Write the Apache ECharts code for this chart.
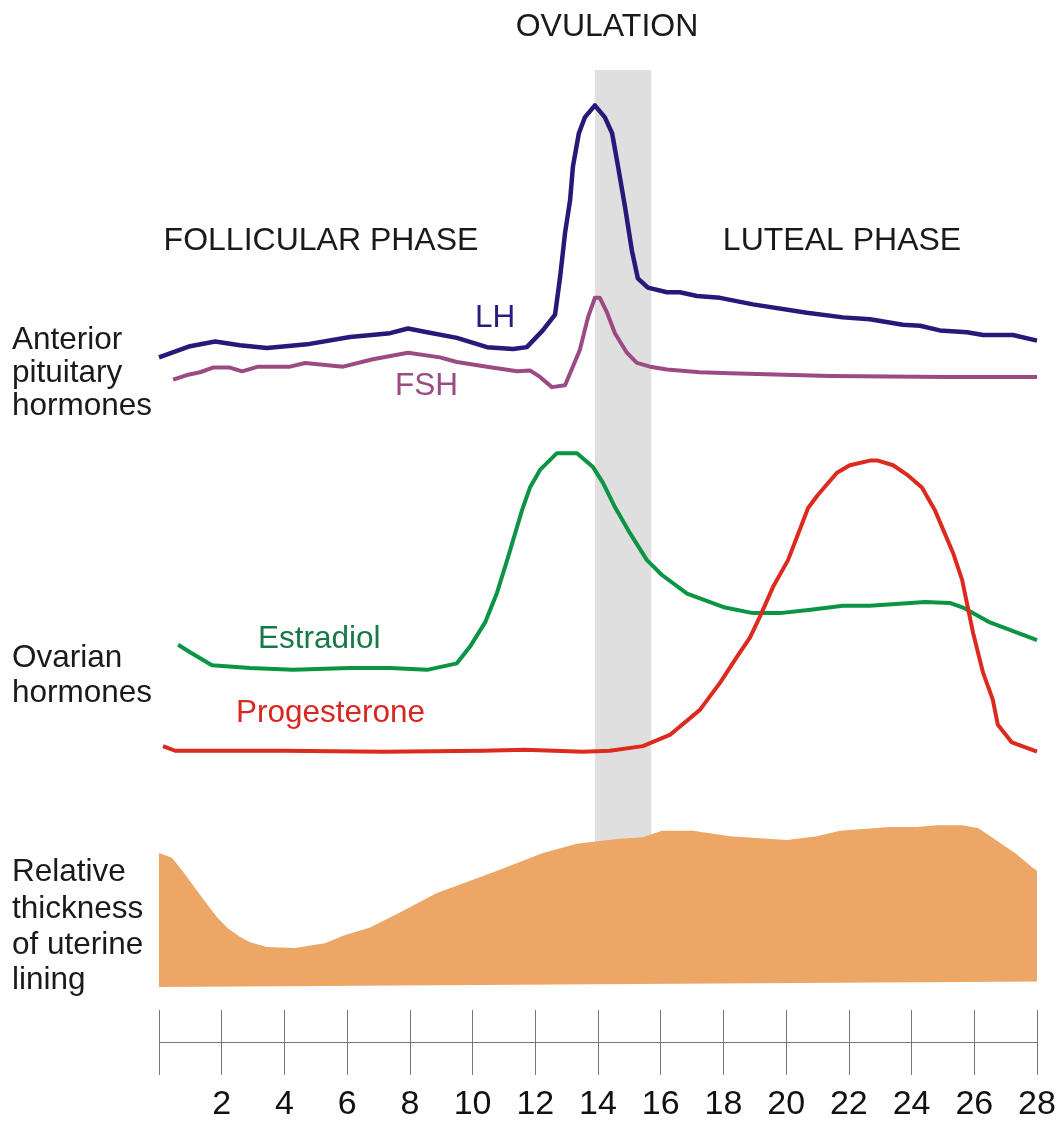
<!DOCTYPE html>
<html>
<head>
<meta charset="utf-8">
<script src="https://cdn.jsdelivr.net/npm/echarts@6/dist/echarts.min.js"></script>
<style>
html,body{margin:0;padding:0;background:#fff;}
#chart{width:1064px;height:1122px;}
</style>
</head>
<body>
<div id="chart"></div>
<script>
// Day of cycle (x) and relative level (y, 0-100 arbitrary units)
var lhData = [[0,69.1],[0.99,70.3],[1.79,70.8],[2.58,70.4],[3.44,70.1],[4.72,70.5],[6.09,71.3],[7.37,71.7],[7.94,72.2],[8.55,71.8],[9.5,71.2],[10.46,70.2],[11.29,70.0],[11.73,70.2],[12.24,72.0],[12.63,73.7],[12.79,77.7],[12.95,82.5],[13.11,86.0],[13.2,89.6],[13.39,93.2],[13.58,94.9],[13.9,96.2],[14.22,94.9],[14.45,93.2],[14.64,89.6],[14.86,85.3],[15.08,80.6],[15.27,77.6],[15.59,76.6],[16.2,76.1],[16.61,76.1],[17.16,75.7],[17.89,75.5],[18.94,74.8],[20.66,73.9],[21.81,73.4],[22.67,73.2],[23.72,72.6],[24.27,72.5],[24.9,72.0],[25.77,71.8],[26.28,71.5],[27.23,71.5],[28,70.9]];
var fshData = [[0.45,66.7],[0.89,67.2],[1.31,67.5],[1.72,68.0],[2.26,68.0],[2.65,67.6],[3.16,68.1],[4.18,68.1],[4.66,68.5],[5.87,68.1],[6.82,68.9],[7.94,69.6],[8.96,69.1],[9.5,68.6],[10.46,68.1],[11.42,67.6],[11.83,67.7],[12.15,67.0],[12.53,65.9],[12.95,66.1],[13.42,69.9],[13.68,73.4],[13.9,75.5],[14.06,75.5],[14.29,73.9],[14.54,71.7],[14.92,69.6],[15.24,68.5],[15.66,68.1],[16.2,67.8],[17.25,67.5],[18.21,67.4],[21.4,67.1],[25.13,67.0],[28,67.0]];
var estradiolData = [[0.61,38.2],[0.99,37.4],[1.69,36.0],[2.9,35.7],[4.27,35.5],[6.09,35.7],[7.37,35.7],[8.55,35.5],[9.5,36.2],[9.92,38.0],[10.4,40.6],[10.78,43.8],[11.13,47.6],[11.58,52.7],[11.83,55.1],[12.15,57.0],[12.69,58.8],[13.33,58.8],[13.84,57.3],[14.16,55.6],[14.54,53.0],[15.02,50.2],[15.56,47.3],[16.04,45.7],[16.84,43.7],[18.05,42.2],[18.94,41.6],[19.8,41.6],[20.85,42.0],[21.81,42.4],[22.67,42.4],[24.43,42.8],[25.22,42.7],[25.64,42.2],[26.5,40.6],[28,38.7]];
var progesteroneData = [[0.13,27.3],[0.51,26.8],[3.95,26.8],[7.14,26.7],[10.33,26.8],[11.67,26.9],[13.52,26.7],[14.38,26.8],[15.43,27.3],[16.29,28.5],[17.25,31.2],[17.89,34.1],[18.43,36.9],[18.85,39.0],[19.16,41.2],[19.58,44.4],[20.06,47.3],[20.7,52.9],[21.01,54.3],[21.62,56.7],[22.03,57.5],[22.67,58.0],[22.93,58.0],[23.41,57.5],[23.85,56.5],[24.33,55.1],[24.74,52.7],[25.32,48.1],[25.61,45.2],[25.96,39.5],[26.28,35.2],[26.59,32.3],[26.75,29.6],[27.2,27.7],[28,26.7]];
var liningTop = [[0,15.8],[0.41,15.3],[0.77,13.8],[1.31,11.3],[1.85,8.9],[2.2,7.7],[2.58,6.8],[2.9,6.2],[3.44,5.7],[4.34,5.6],[5.29,6.1],[5.87,6.9],[6.73,7.8],[7.68,9.4],[8.86,11.5],[9.82,12.7],[10.87,14.0],[12.24,15.8],[13.33,16.8],[14.6,17.3],[15.43,17.5],[16.04,18.2],[17.03,18.2],[18.21,17.6],[20.03,17.2],[20.98,17.6],[21.72,18.2],[23.31,18.6],[24.17,18.6],[24.81,18.8],[25.61,18.8],[26.12,18.5],[27.3,15.8],[27.87,14.2],[28,13.9]];
var liningBase = [[0,1.4],[28,2.0]];
var ovulationDays = [13.9, 15.7];
var ovulationLevels = [5, 100];
var dayTicks = [0,28,2];

var FONT = '"Liberation Sans", Arial, sans-serif';
var chart = echarts.init(document.getElementById('chart'), null, {renderer:'canvas'});

function txt(s, x, y, color, size, align) {
  return {type:'text', x:x, y:y, z:50, style:{text:s, fill:color, fontSize:size||31.5, fontFamily:FONT, align:align||'left', verticalAlign:'middle'}};
}

var option = {
  animation:false,
  backgroundColor:'#ffffff',
  grid:[
    {left:159, right:27, top:70, height:930},
    {left:159, right:27, top:1010, height:67}
  ],
  xAxis:[
    {gridIndex:0, type:'value', min:dayTicks[0], max:dayTicks[1], show:false},
    {gridIndex:1, type:'value', min:dayTicks[0], max:dayTicks[1], interval:dayTicks[2],
     axisLine:{show:false}, axisTick:{show:false},
     splitLine:{show:true, lineStyle:{color:'#777', width:1}},
     axisLabel:{show:true, margin:13, fontSize:34, fontFamily:FONT, color:'#111',
       formatter:function(v){ return v>0 ? String(v) : ''; }}}
  ],
  yAxis:[
    {gridIndex:0, type:'value', min:0, max:100, show:false},
    {gridIndex:1, type:'value', min:0, max:2, interval:1, axisLine:{show:false}, axisTick:{show:false}, axisLabel:{show:false},
     splitLine:{show:true, showMinLine:false, showMaxLine:false, lineStyle:{color:'#777', width:1}}}
  ],
  series:[
    {type:'custom', xAxisIndex:0, yAxisIndex:0, z:1, silent:true, data:[[ovulationDays[0], ovulationLevels[0]]],
     renderItem:function(params, api){
       var a = api.coord([ovulationDays[0], ovulationLevels[1]]);
       var b = api.coord([ovulationDays[1], ovulationLevels[0]]);
       return {type:'rect', shape:{x:a[0], y:a[1], width:b[0]-a[0], height:b[1]-a[1]}, style:{fill:'#dfdfdf'}};
     }},
    {type:'custom', xAxisIndex:0, yAxisIndex:0, z:2, silent:true, data:[[0,0]],
     renderItem:function(params, api){
       var pts = liningTop.map(function(p){ return api.coord(p); });
       for (var i = liningBase.length-1; i >= 0; i--) pts.push(api.coord(liningBase[i]));
       return {type:'polygon', shape:{points:pts}, style:{fill:'#eca766'}};
     }},
    {name:'LH', type:'line', xAxisIndex:0, yAxisIndex:0, z:5, data:lhData, symbol:'none', lineStyle:{color:'#25197a', width:4.5, join:'round'}},
    {name:'FSH', type:'line', xAxisIndex:0, yAxisIndex:0, z:5, data:fshData, symbol:'none', lineStyle:{color:'#9b4a84', width:4, join:'round'}},
    {name:'Estradiol', type:'line', xAxisIndex:0, yAxisIndex:0, z:5, data:estradiolData, symbol:'none', lineStyle:{color:'#0b9444', width:4, join:'round'}},
    {name:'Progesterone', type:'line', xAxisIndex:0, yAxisIndex:0, z:5, data:progesteroneData, symbol:'none', lineStyle:{color:'#dd2a1f', width:4, join:'round'}}
  ],
  graphic:[
    txt('OVULATION', 607, 27, '#1a1a1a', 32, 'center'),
    txt('FOLLICULAR PHASE', 321, 241, '#1a1a1a', 32, 'center'),
    txt('LUTEAL PHASE', 842, 241, '#1a1a1a', 32, 'center'),
    txt('LH', 475, 318, '#2b1d7d'),
    txt('FSH', 395, 386, '#9a4b84'),
    txt('Estradiol', 258, 639, '#17794a'),
    txt('Progesterone', 236, 713, '#d9261f'),
    txt('Anterior', 12, 340, '#1a1a1a'),
    txt('pituitary', 12, 373, '#1a1a1a'),
    txt('hormones', 12, 406, '#1a1a1a'),
    txt('Ovarian', 12, 658, '#1a1a1a'),
    txt('hormones', 12, 693, '#1a1a1a'),
    txt('Relative', 12, 872, '#1a1a1a'),
    txt('thickness', 12, 909, '#1a1a1a'),
    txt('of uterine', 12, 945, '#1a1a1a'),
    txt('lining', 12, 980, '#1a1a1a')
  ]
};
chart.setOption(option);
</script>
</body>
</html>
